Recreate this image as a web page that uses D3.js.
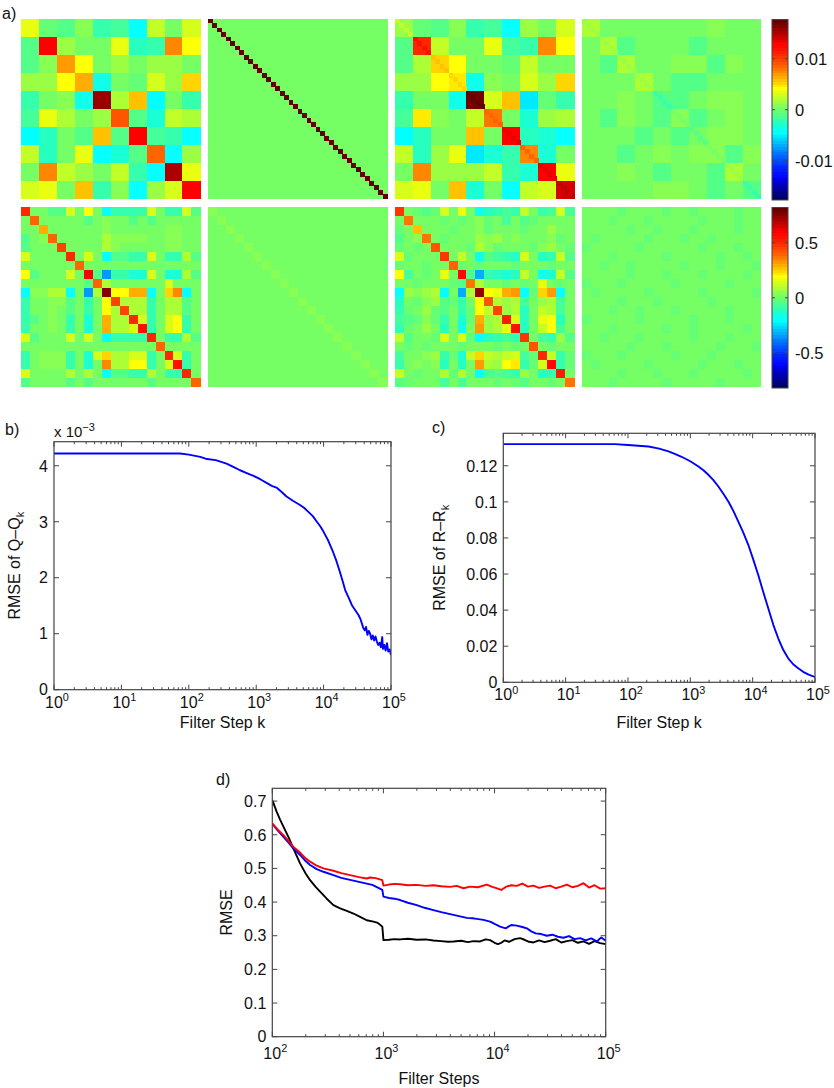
<!DOCTYPE html>
<html>
<head>
<meta charset="utf-8">
<script src="https://cdn.jsdelivr.net/npm/d3@7"></script>
<style>
  body { margin: 0; background: #fff; }
  text { font-family: 'Liberation Sans', Arial, Helvetica, sans-serif; fill: #111; }
</style>
</head>
<body>
<script>
// ---- a) matrices ----
// true Q, 10x10, units of 1e-3
const qTrue = [
  [3.5, -0.5, -1, 1, -2, -1.5, -4.4, 2.5, 0.5, 3],
  [-1, 13, 1.5, 0.5, 0, 3.5, -2.5, -2, 7.5, 4],
  [-1, 1, 7, 4, 0, 1.5, 0.5, 1.5, 1.5, 0.5],
  [1.5, 1.5, 4, 6.5, -3.5, 0, -0.5, 3, 1.5, 5.5],
  [-2, 0, 1, -3.5, 16, 2, 6, -4.5, 0.5, -2],
  [-1.5, 3.5, 2, 0, 1.5, 9, -1, -3, 2.5, 2],
  [-4.5, -2.5, 0.5, -1, 6, -1, 13, -1.5, -2, -4],
  [2.5, -2.5, 0.5, 3.5, -4, -3, -1, 8.5, -4, 1.5],
  [0, 7.5, 2.5, 1.5, 0.5, 2.5, -2, -4, 15, 3.5],
  [3, 3.5, 0.5, 6, -2, 1, -4, 1.5, 3, 13]
];
// error Q - Q_k, 10x10 ("-" = -1, "0" = 0, "+" = +1, "2" = +2, units 1e-3)
const qErrRows = [
  "2000000+00",
  "02-000-000",
  "0-200++-+0",
  "00020--000",
  "00+0--0++0",
  "0-+0-+-0+0",
  "000-0-0++0",
  "00-0+0++-+",
  "00+0-00-20",
  "0000++0-0-"
];
const qFineErr = -0.8;       // extra on the 40x40 diagonal
const qFineN = 40;
const qInitDiag = 20;        // initial Q_0 diagonal (clipped, dark red)
const qLim = 17.7;           // colour limits +-, units 1e-3
const qBarTicks = [-10, 0, 10];

// true R, 20x20, units of 0.1
const rTrue = [
  [5, 0, 0, -0.5, -0.5, 1.5, 0, 2, 0, -2, -1, -1, -1, -1, 1.5, 0, -1, -1, 1.5, -0.5],
  [0, 4, 0, 0, 0, 0, 0, -0.5, 0, 0.5, 0, 0, -0.5, 0, -0.5, 0, 0, 0, 0, 0],
  [0, 0, 3, 0, 0, 0, 0, 0, 0, 0.5, 0, 0, 0, 0, 0, 0, 0.5, 0.5, 0, 0],
  [-0.5, 0, 0.5, 4, 0, 0, 0, 0, 0, 1, 0.5, 0.5, 0.5, 0.5, 0, 0, 0.5, 0.5, 0, 0],
  [-0.5, 0, 0, 0, 4.5, 0, 0, 0, 0, 1, 0.5, 0, 0, 0, 0, 0, 0.5, 0.5, 0, 0],
  [1.5, 0, 0, 0, 0, 5, 0, 1.5, 0, -2, -0.5, -0.5, -1, -1, 1.5, 0, -1, -1, 1, -0.5],
  [0, 0, 0, 0, 0, 0, 4, 0, 0, 0, 0, 0, 0, 0, 0, 0, 0, 0, 0, 0],
  [2, -0.5, 0, 0, 0, 1.5, 0, 6, -0.5, -3.5, -1, -1, -1.5, -1.5, 1.5, 0, -1.5, -1.5, 1, -0.5],
  [0, 0, 0, 0, 0, 0, 0, -0.5, 4, 1, 0, 0, 0, 0, 0, 0, 1.5, 0, 0, 0],
  [-2, 0.5, 0.5, 1, 1, -2, 0, -3.5, 1, 7.5, 2, 2, 3, 3, -2, 0, 2.5, 3.5, -2, 0],
  [-1, 0, 0, 0.5, 0.5, -0.5, 0, -1, 0, 2, 4.5, 1, 1, 1, -1, 0, 1, 1, -0.5, 0],
  [-1, 0, 0, 0.5, 0, -0.5, 0, -1, 0, 2, 1, 4.5, 1, 1, -1, 0, 1, 1, -0.5, 0],
  [-1, -0.5, 0, 0.5, 0, -1, 0, -1.5, 0, 3, 1, 1, 5, 1.5, -1, 0, 1.5, 2, -1, 0],
  [-1, 0, 0, 0.5, 0, -1, 0, -1.5, 0, 3, 1, 1, 1.5, 5.5, -1, 0, 1.5, 2, -1, 0],
  [1.5, -0.5, 0, 0, 0, 1.5, 0, 1.5, 0, -2, -1, -1, -1, -1, 5, 0, -1, -1, 1, -0.5],
  [0, 0, 0, 0, 0, 0, 0, 0, 0, 0, 0, 0, 0, 0, 0, 4, 0, 0, 0, 0],
  [-1, 0, 0.5, 0.5, 0.5, -1, 0, -1.5, 1.5, 2.5, 1, 1, 1.5, 1.5, -1, 0, 5, 1.5, -1, 0],
  [-1, 0, 0.5, 0.5, 0.5, -1, 0, -1.5, 0, 3.5, 1, 1, 2, 2, -1, 0, 1.5, 5.5, -1, 0],
  [1.5, 0, 0, 0, 0, 1, 0, 1, 0, -2, -0.5, -0.5, -1, -1, 1, 0, -1, -1, 5, 0],
  [-0.5, 0, 0, 0, 0, -0.5, 0, -0.5, 0, 0, 0, 0, 0, 0, -0.5, 0, 0, 0, 0, 4]
];
// error R - R_k, 20x20 ("-" = -0.25, "0" = 0, "+" = +0.25, units 0.1)
const rErrRows = [
  "+0+0-00+0-+0-0+00-0+",
  "0+0-0+0-00+0+-0+0-00",
  "+0+00-+0-0+0-0+0+-00",
  "0-0+0+0-0+0-+0-0+0+0",
  "-0+0+0-0+00+0-0+0-0+",
  "0+0-0+0+0-0+0+0-+0-0",
  "+0-+0-0+0+0-0+0-0+0-",
  "0+0+0-0+0-0+0-+0+0-0",
  "-0+0-0+0+0-0+0+0-0+0",
  "0-0+0+0-0+0+0-0+0+0-",
  "+0+0-0+0-0+0+0-0+0+0",
  "0+0-+0-0+0-0+0+0-0+0",
  "-0+0+0-0+0+0-0+0-0+0",
  "0+0-0+0+0-+0-0+0+0-0",
  "+0-0+0-0+0+0-0+0-0+0",
  "0+0+0-0+0-0+0+0-0+0-",
  "-0+0-0+0+0-0+0-+0+0+",
  "0-0+0+0-0+0+0-0+0-0+",
  "+0+0-0+0-0+0-0+0+0-0",
  "0+0-0+0+0-0+0+0-0+0+"
];
const rInitDiag = 0.4;       // initial R_0 diagonal
const rLim = 8.2;            // colour limits +-, units 0.1
const rBarTicks = [-5, 0, 5];

// ---- b) RMSE of Q-Q_k (log10 k, value x1e-3) ----
const qStepExp = [0, 1.87, 2.0, 2.17, 2.27, 2.4, 2.56, 2.66, 2.76, 2.86, 2.96, 3.06, 3.16, 3.23, 3.3, 3.37, 3.45, 3.55, 3.65, 3.71, 3.77, 3.84, 3.9, 3.95, 4.0, 4.07, 4.14, 4.19, 4.24, 4.28, 4.32, 4.37, 4.42, 4.47, 4.52, 4.55, 4.59, 4.61, 4.63, 4.65, 4.67, 4.69, 4.71, 4.73, 4.75, 4.77, 4.79, 4.81, 4.83, 4.85, 4.87, 4.88, 4.9, 4.92, 4.94, 4.96, 4.98, 5.0];
const qRmse = [4.22, 4.22, 4.2, 4.16, 4.12, 4.1, 4.04, 3.98, 3.92, 3.87, 3.82, 3.76, 3.69, 3.64, 3.61, 3.54, 3.45, 3.37, 3.3, 3.25, 3.18, 3.1, 3.0, 2.92, 2.82, 2.66, 2.46, 2.3, 2.11, 1.95, 1.78, 1.65, 1.51, 1.42, 1.33, 1.25, 1.1, 1.06, 1.12, 0.98, 1.05, 1.0, 0.9, 0.97, 0.88, 0.95, 0.86, 0.8, 0.84, 0.76, 0.94, 0.73, 0.8, 0.7, 0.83, 0.68, 0.72, 0.62];
const qYTicks = [0, 1, 2, 3, 4];

// ---- c) RMSE of R-R_k ----
const rStepExp = [0, 1.79, 2.0, 2.33, 2.5, 2.65, 2.76, 2.86, 3.0, 3.13, 3.21, 3.29, 3.37, 3.45, 3.53, 3.61, 3.69, 3.77, 3.85, 3.93, 4.01, 4.09, 4.17, 4.25, 4.33, 4.41, 4.49, 4.57, 4.65, 4.73, 4.81, 4.89, 4.95, 5.0];
const rRmse = [0.132, 0.132, 0.1315, 0.1307, 0.1295, 0.128, 0.1265, 0.125, 0.1225, 0.1196, 0.1175, 0.115, 0.112, 0.1085, 0.1045, 0.1002, 0.095, 0.0891, 0.083, 0.0762, 0.068, 0.0595, 0.05, 0.041, 0.032, 0.0244, 0.018, 0.0133, 0.01, 0.0078, 0.0058, 0.0044, 0.0036, 0.003];
const rYTicks = [0, 0.02, 0.04, 0.06, 0.08, 0.1, 0.12];

// ---- d) RMSE vs filter steps, three runs ----
const blackExp = [2.0, 2.04, 2.07, 2.1, 2.15, 2.19, 2.25, 2.3, 2.34, 2.39, 2.43, 2.49, 2.55, 2.61, 2.67, 2.73, 2.79, 2.85, 2.91, 2.95, 2.99, 3.0, 3.05, 3.1, 3.15, 3.22, 3.3, 3.38, 3.45, 3.52, 3.58, 3.63, 3.7, 3.76, 3.81, 3.87, 3.92, 3.96, 4.0, 4.03, 4.06, 4.09, 4.13, 4.18, 4.23, 4.27, 4.31, 4.35, 4.4, 4.45, 4.5, 4.55, 4.6, 4.65, 4.7, 4.75, 4.8, 4.85, 4.9, 4.95, 5.0];
const blackRmse = [0.703, 0.668, 0.645, 0.624, 0.59, 0.559, 0.515, 0.485, 0.465, 0.445, 0.431, 0.41, 0.391, 0.381, 0.374, 0.366, 0.356, 0.346, 0.342, 0.338, 0.327, 0.287, 0.288, 0.29, 0.289, 0.291, 0.288, 0.289, 0.286, 0.284, 0.282, 0.283, 0.285, 0.281, 0.284, 0.283, 0.289, 0.287, 0.279, 0.275, 0.279, 0.286, 0.282, 0.29, 0.293, 0.288, 0.282, 0.28, 0.286, 0.281, 0.285, 0.29, 0.28, 0.284, 0.287, 0.279, 0.283, 0.276, 0.284, 0.278, 0.275];
const blueExp = [2.0, 2.05, 2.1, 2.15, 2.19, 2.25, 2.3, 2.34, 2.4, 2.46, 2.55, 2.62, 2.7, 2.78, 2.85, 2.9, 2.95, 2.99, 3.0, 3.05, 3.1, 3.15, 3.22, 3.3, 3.37, 3.45, 3.52, 3.6, 3.67, 3.75, 3.8, 3.84, 3.9, 3.96, 4.0, 4.05, 4.1, 4.15, 4.2, 4.25, 4.29, 4.33, 4.37, 4.42, 4.47, 4.52, 4.57, 4.62, 4.67, 4.72, 4.77, 4.82, 4.87, 4.92, 4.96, 5.0];
const blueRmse = [0.632, 0.612, 0.594, 0.575, 0.559, 0.54, 0.522, 0.51, 0.498, 0.49, 0.48, 0.472, 0.466, 0.46, 0.455, 0.451, 0.443, 0.436, 0.416, 0.412, 0.41, 0.406, 0.398, 0.391, 0.383, 0.376, 0.37, 0.364, 0.359, 0.353, 0.352, 0.35, 0.347, 0.342, 0.335, 0.327, 0.322, 0.332, 0.33, 0.326, 0.322, 0.313, 0.307, 0.305, 0.3, 0.303, 0.297, 0.294, 0.299, 0.29, 0.293, 0.286, 0.292, 0.283, 0.295, 0.285];
const redExp = [2.0, 2.05, 2.1, 2.15, 2.19, 2.25, 2.3, 2.34, 2.4, 2.46, 2.55, 2.62, 2.7, 2.78, 2.85, 2.88, 2.93, 2.99, 3.0, 3.05, 3.1, 3.15, 3.22, 3.3, 3.38, 3.45, 3.52, 3.6, 3.66, 3.72, 3.78, 3.85, 3.93, 3.98, 4.03, 4.06, 4.1, 4.15, 4.2, 4.25, 4.3, 4.35, 4.4, 4.45, 4.5, 4.55, 4.6, 4.65, 4.7, 4.75, 4.8, 4.85, 4.9, 4.95, 5.0];
const redRmse = [0.634, 0.615, 0.599, 0.58, 0.564, 0.547, 0.53, 0.52, 0.508, 0.5, 0.493, 0.486, 0.48, 0.474, 0.47, 0.473, 0.471, 0.465, 0.449, 0.452, 0.454, 0.453, 0.45, 0.451, 0.448, 0.45, 0.447, 0.445, 0.448, 0.441, 0.446, 0.444, 0.452, 0.445, 0.44, 0.436, 0.445, 0.45, 0.448, 0.455, 0.446, 0.449, 0.442, 0.446, 0.449, 0.441, 0.446, 0.452, 0.444, 0.448, 0.456, 0.443, 0.45, 0.44, 0.441];
const dYTicks = [0, 0.1, 0.2, 0.3, 0.4, 0.5, 0.6, 0.7];

const axisColor = "#444";
const fs = 16;

const svg = d3.select("body").append("svg")
  .attr("width", 834).attr("height", 1088);

// MATLAB jet(64), index 0..63, slightly darkened mid-tones like the print
function jetRow(i) {
  const u = k => (k < 1 || k > 47) ? 0 : k <= 16 ? k / 16 : k <= 31 ? 1 : (48 - k) / 16;
  const j = i + 1;
  const ch = v => Math.round(255 * Math.pow(v, 1.35));
  return d3.rgb(ch(u(j - 24)), ch(u(j - 8)), ch(u(j + 7)));
}
function jet(t) {
  return jetRow(Math.max(0, Math.min(63, Math.floor(t * 64))));
}

const errCode = { "-": -1, "0": 0, "+": 1, "2": 2 };
const qErr = qErrRows.map(s => s.split("").map(ch => errCode[ch]));
const rErr = rErrRows.map(s => s.split("").map(ch => errCode[ch] * 0.25));

// panel grid of part a)
const colBand = d3.scaleBand().domain(d3.range(4)).range([21, 761]).paddingInner(0.04);
const rowBand = d3.scaleBand().domain([0, 1]).range([18.5, 387]).paddingInner(0.04);

// cells: [{r, c, v}] on an n x n grid
function drawCells(g, n, cells, color) {
  const b = d3.scaleBand().domain(d3.range(n)).range([0, colBand.bandwidth()]);
  const bv = d3.scaleBand().domain(d3.range(n)).range([0, rowBand.bandwidth()]);
  g.selectAll(null).data(cells).enter().append("rect")
    .attr("x", d => b(d.c)).attr("y", d => bv(d.r))
    .attr("width", b.bandwidth() + 0.4).attr("height", bv.bandwidth() + 0.4)
    .attr("fill", d => color(d.v))
    .attr("shape-rendering", "crispEdges");
}
function matCells(m) {
  const out = [];
  m.forEach((row, r) => row.forEach((v, c) => out.push({ r, c, v })));
  return out;
}
function diagCells(n, f) {
  return d3.range(n).map(i => ({ r: i, c: i, v: f(i) }));
}

function panel(row, col) {
  return svg.append("g")
    .attr("transform", `translate(${colBand(col)},${rowBand(row)})`);
}

// Q row
const qColor = v => jet((v + qLim) / (2 * qLim));
const qEst = qTrue.map((r, i) => r.map((v, j) => v - qErr[i][j]));
drawCells(panel(0, 0), 10, matCells(qTrue), qColor);
drawCells(panel(0, 1), 1, [{ r: 0, c: 0, v: 0 }], qColor);
drawCells(panel(0, 1), qFineN, diagCells(qFineN, () => qInitDiag), qColor);
const p02 = panel(0, 2);
drawCells(p02, 10, matCells(qEst), qColor);
drawCells(p02, qFineN, diagCells(qFineN, i => { const b = Math.floor(i / 4); return qEst[b][b] - qFineErr; }), qColor);
const p03 = panel(0, 3);
drawCells(p03, 10, matCells(qErr), qColor);
drawCells(p03, qFineN, diagCells(qFineN, i => { const b = Math.floor(i / 4); return qErr[b][b] + qFineErr; }), qColor);

// R row
const rColor = v => jet((v + rLim) / (2 * rLim));
const rEst = rTrue.map((r, i) => r.map((v, j) => v - rErr[i][j]));
drawCells(panel(1, 0), 20, matCells(rTrue), rColor);
drawCells(panel(1, 1), 1, [{ r: 0, c: 0, v: 0 }], rColor);
drawCells(panel(1, 1), 20, diagCells(20, () => rInitDiag), rColor);
drawCells(panel(1, 2), 20, matCells(rEst), rColor);
drawCells(panel(1, 3), 20, matCells(rErr), rColor);

// colorbars
function colorbar(row, lim, ticks, fmt) {
  const x0 = 772, w = 16;
  const y0 = rowBand(row) + 1, h = rowBand.bandwidth();
  const g = svg.append("g");
  const lv = d3.range(64);
  const yb = d3.scaleBand().domain(lv).range([y0 + h, y0]);
  g.selectAll(null).data(lv).enter().append("rect")
    .attr("x", x0).attr("y", d => yb(d)).attr("width", w).attr("height", yb.bandwidth() + 0.3)
    .attr("fill", d => jetRow(d)).attr("shape-rendering", "crispEdges");
  g.append("rect").attr("x", x0).attr("y", y0).attr("width", w).attr("height", h)
    .attr("fill", "none").attr("stroke", axisColor).attr("stroke-width", 1);
  const y = d3.scaleLinear().domain([-lim, lim]).range([y0 + h, y0]);
  const ax = g.append("g").attr("transform", `translate(${x0 + w},0)`)
    .call(d3.axisRight(y).tickValues(ticks).tickSize(0).tickPadding(7).tickFormat(fmt));
  ax.select(".domain").remove();
  ax.selectAll("text").attr("font-size", 16.5).attr("fill", "#111")
    .style("font-family", "'Liberation Sans', Arial, sans-serif");
  g.selectAll(null).data(ticks).enter().append("path")
    .attr("d", d => `M${x0},${y(d)}h3M${x0 + w},${y(d)}h-3`)
    .attr("stroke", axisColor);
}
colorbar(0, qLim, qBarTicks, d => d === 0 ? "0" : (d < 0 ? "-" : "") + (Math.abs(d) / 1000));
colorbar(1, rLim, rBarTicks, d => d === 0 ? "0" : (d < 0 ? "-" : "") + (Math.abs(d) / 10));

svg.append("text").attr("x", 2).attr("y", 19).attr("font-size", fs).text("a)");

// ---- line panels ----
function linePlot(o) {
  const [l, r, t, b] = o.box;
  const x = d3.scaleLog().domain([10 ** o.xExp[0], 10 ** o.xExp[1]]).range([l, r]);
  const y = d3.scaleLinear().domain([0, o.yMax]).range([b, t]);
  const g = svg.append("g");

  const clipId = "clip" + o.tag.replace(")", "");
  g.append("clipPath").attr("id", clipId).append("rect")
    .attr("x", l).attr("y", t - 2).attr("width", r - l).attr("height", b - t + 2);

  o.series.forEach(s => {
    const pts = s.exp.map((e, i) => [10 ** e, s.vals[i]]);
    g.append("path").datum(pts)
      .attr("clip-path", `url(#${clipId})`)
      .attr("fill", "none").attr("stroke", s.color).attr("stroke-width", 1.9)
      .attr("stroke-linejoin", "round")
      .attr("d", d3.line().x(d => x(d[0])).y(d => y(d[1])));
  });

  // ticks (inward, mirrored on top/right)
  const majors = d3.range(o.xExp[0], o.xExp[1] + 1).map(e => 10 ** e);
  const minors = [];
  d3.range(o.xExp[0], o.xExp[1]).forEach(e => d3.range(2, 10).forEach(m => minors.push(m * 10 ** e)));
  let d = "";
  majors.forEach(v => { d += `M${x(v)},${b}v-5M${x(v)},${t}v5`; });
  minors.forEach(v => { d += `M${x(v)},${b}v-2.5M${x(v)},${t}v2.5`; });
  o.yTicks.forEach(v => { d += `M${l},${y(v)}h5M${r},${y(v)}h-5`; });
  g.append("path").attr("d", d).attr("stroke", axisColor).attr("stroke-width", 1).attr("fill", "none");
  g.append("rect").attr("x", l).attr("y", t).attr("width", r - l).attr("height", b - t)
    .attr("fill", "none").attr("stroke", axisColor).attr("stroke-width", 1.2);

  // x tick labels 10^n
  majors.forEach((v, i) => {
    const tx = g.append("text").attr("x", x(v) + 3).attr("y", b + o.xLabOff)
      .attr("text-anchor", "middle").attr("font-size", fs);
    tx.append("tspan").text("10");
    tx.append("tspan").attr("dy", -fs * 0.42).attr("font-size", fs * 0.68).text(o.xExp[0] + i);
  });
  // y tick labels
  g.selectAll(null).data(o.yTicks).enter().append("text")
    .attr("x", l - 6).attr("y", v => y(v) + fs * 0.36)
    .attr("text-anchor", "end").attr("font-size", fs)
    .text(v => +v.toFixed(2) + "");

  g.append("text").attr("x", (l + r) / 2).attr("y", o.xTitleY)
    .attr("text-anchor", "middle").attr("font-size", fs).text(o.xTitle);
  const yt = g.append("text")
    .attr("transform", `translate(${o.yTitleX},${(t + b) / 2}) rotate(-90)`)
    .attr("text-anchor", "middle").attr("font-size", fs);
  yt.append("tspan").text(o.yTitle);
  if (o.ySub) yt.append("tspan").attr("dy", 4).attr("font-size", fs * 0.7).text(o.ySub);

  svg.append("text").attr("x", o.tagPos[0]).attr("y", o.tagPos[1]).attr("font-size", fs).text(o.tag);
  return { x, y, g };
}

const pb = linePlot({
  box: [54, 391, 441.7, 689.7], xExp: [0, 5], yMax: 4.43, yTicks: qYTicks,
  series: [{ exp: qStepExp, vals: qRmse, color: "#0000ff" }],
  xLabOff: 18, xTitle: "Filter Step k", xTitleY: 728,
  yTitle: "RMSE of Q\u2013Q", ySub: "k", yTitleX: 20, tag: "b)", tagPos: [5, 435]
});
const ex = pb.g.append("text").attr("x", 54).attr("y", 437).attr("font-size", 15);
ex.append("tspan").text("x 10");
ex.append("tspan").attr("dy", -6).attr("font-size", 11).text("\u22123");

linePlot({
  box: [503.3, 815, 433.3, 682.3], xExp: [0, 5], yMax: 0.138, yTicks: rYTicks,
  series: [{ exp: rStepExp, vals: rRmse, color: "#0000ff" }],
  xLabOff: 18, xTitle: "Filter Step k", xTitleY: 728,
  yTitle: "RMSE of R\u2013R", ySub: "k", yTitleX: 445, tag: "c)", tagPos: [432, 433]
});

linePlot({
  box: [272.3, 605.7, 788.3, 1036.7], xExp: [2, 5], yMax: 0.738, yTicks: dYTicks,
  series: [
    { exp: blackExp, vals: blackRmse, color: "#000000" },
    { exp: blueExp, vals: blueRmse, color: "#0000ff" },
    { exp: redExp, vals: redRmse, color: "#ff0000" }
  ],
  xLabOff: 22, xTitle: "Filter Steps", xTitleY: 1084,
  yTitle: "RMSE", ySub: null, yTitleX: 232, tag: "d)", tagPos: [216, 785]
});
</script>
</body>
</html>
